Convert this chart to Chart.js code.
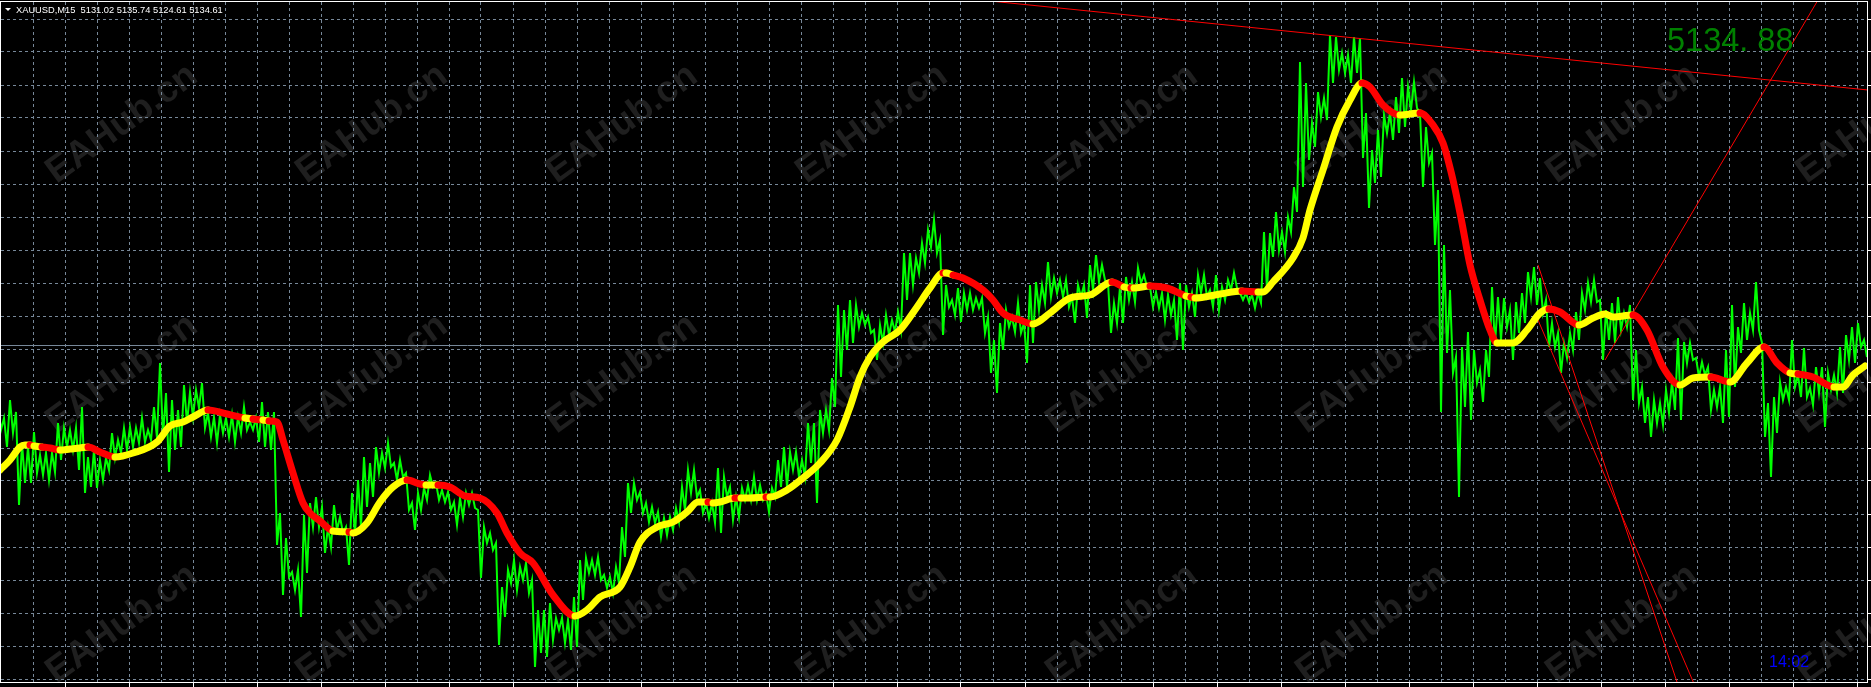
<!DOCTYPE html>
<html lang="en">
<head>
    <meta charset="utf-8" />
    <title>XAUUSD,M15</title>
    <script src="https://cdn.jsdelivr.net/npm/chart.js@4.4.0/dist/chart.umd.js"></script>
    <style>
        html, body { margin: 0; padding: 0; background: #000; overflow: hidden; }
        canvas { display: block; }
    </style>
</head>
<body>
    <canvas id="xauChart" width="1871" height="687"></canvas>

    <script>
        // the screenshot has no price axis, so everything is read on a scale of 1 unit per pixel,
        // anchored on the bid line. values are estimates off the picture.
        var symbolText = "XAUUSD,M15  5131.02 5135.74 5124.61 5134.61";
        var priceText = "5134. 88";
        var timerText = "14:02";
        var watermarkText = "EAHub.cn";

        // green price line, one high/low pair per 6 bars
        var priceHigh = [
            5075,5062,5080,5068,5037,5033,5048,5025,5027,5027,5057,5052,5050,5052,5073,5023,5030,5020,5022,5047,5040,5052,5053,5052,5062,5050,5073,5117,5087,5080,5070,5095,5088,5090,5097,5067,5063,5065,5062,5065,5063,5073,5058,5062,5078,5068,5068,
            4967,4942,4908,4910,4965,4977,4983,4973,4953,4975,4963,4953,4987,5000,5023,5017,5033,5027,5037,5017,5020,5007,4977,4987,4992,5005,4997,4990,4988,4978,4982,4987,4987,4970,4953,4947,4937,4893,4910,4920,4913,4917,4900,4870,4870,4877,4862,4862,4860,4883,
            4920,4922,4920,4923,4905,4903,4913,4953,4997,4997,4988,4977,4973,4968,4962,4963,4972,4993,5010,5010,4990,4977,4977,5012,5003,4993,4983,4992,4995,5003,4995,4987,4992,5020,5033,5028,5028,5020,5057,5057,5070,5070,
            5102,5175,5170,5180,5175,5167,5163,5150,5155,5165,5160,5168,5227,5227,5222,5237,5250,5260,5240,5195,5180,5192,5187,5187,5182,5182,5163,5140,5157,5170,5163,5177,5157,5195,5198,5195,5218,5202,5200,5200,5183,5195,5195,5215,5225,5215,
            5197,5177,5193,5203,5198,5212,5205,5193,5188,5187,5185,5180,5197,5195,5187,5205,5205,5190,5205,5193,5200,5207,5187,5187,5185,5187,5248,5247,5268,5248,5263,5293,
            5418,5397,5357,5388,5382,5445,5443,5427,5425,5443,5442,5367,5330,5350,5365,5367,5383,5402,5393,5398,5367,5353,5327,5290,5235,5190,5123,5133,5148,5130,5110,5130,5193,5183,5182,
            5170,5178,5187,5208,5213,5202,5180,5157,5147,5137,5147,5168,5187,5197,5200,5180,5170,5177,5183,5167,5175,5130,5093,5083,5080,5077,5090,5098,5142,
            5138,5137,5122,5118,5113,5090,5093,5130,5175,5153,5177,5167,5198,5137,5077,5083,5098,5093,5140,5105,5132,5092,5113,5113,5107,5105,5133,5145,5153,5157,5140
        ];
        var priceLow = [
            5050,5033,5047,4975,4997,4997,5007,5005,5000,5008,5020,5033,5030,5010,4987,4993,4992,5000,5010,5022,5027,5030,5033,5037,5038,5040,5042,5043,5008,5030,5033,5057,5063,5072,5052,5043,5037,5047,5043,5038,5047,5050,5050,5038,5033,5030,4935,
            4885,4903,4890,4863,4907,4953,4953,4927,4933,4950,4947,4915,4945,4953,4973,4983,5007,5012,5013,5000,5003,4970,4950,4970,4980,4993,4980,4978,4970,4955,4963,4975,4972,4902,4937,4930,4835,4863,4897,4890,4900,4887,4813,4827,4823,4840,4850,4837,4830,4833,
            4880,4907,4905,4900,4892,4887,4897,4923,4967,4980,4967,4958,4957,4943,4945,4950,4958,4970,4987,4983,4967,4962,4957,4947,4983,4960,4963,4980,4980,4980,4980,4968,4983,4993,4993,5010,5003,5003,5017,4977,5047,5050,
            5073,5103,5130,5137,5153,5155,5147,5120,5137,5145,5148,5150,5180,5195,5207,5217,5233,5227,5145,5173,5165,5158,5170,5170,5172,5147,5107,5087,5130,5153,5148,5147,5117,5137,5170,5177,5183,5187,5183,5173,5157,5183,5162,5190,5198,5200,
            5147,5157,5157,5180,5178,5197,5193,5173,5172,5160,5165,5140,5130,5173,5163,5187,5183,5173,5170,5180,5190,5192,5180,5178,5172,5177,5190,5223,5230,5228,5248,5268,
            5293,5320,5333,5363,5360,5397,5410,5407,5397,5407,5322,5272,5297,5303,5347,5340,5347,5353,5370,5372,5293,5317,5235,5068,5127,5107,4983,5073,5060,5097,5078,5103,5135,5140,5153,
            5120,5147,5157,5183,5175,5167,5133,5133,5107,5122,5130,5140,5170,5178,5178,5120,5140,5137,5150,5153,5080,5077,5057,5043,5057,5055,5067,5070,5060,
            5117,5120,5103,5105,5070,5073,5057,5063,5093,5127,5140,5150,5150,5043,5003,5047,5080,5080,5093,5083,5083,5075,5087,5053,5090,5087,5087,5120,5117,5133,5123
        ];

        // thick moving average, bar number and value
        var maBars = [0,10,20,25,30,34,42,50,60,70,80,88,100,115,133,157,170,183,193,208,227,245,253,263,269,277,283,293,303,310,320,333,349,353,367,380,393,407,420,426,438,450,465,480,497,507,520,533,553,575,587,600,620,630,640,657,673,687,698,708,713,720,735,741,750,766,770,787,803,820,837,850,860,870,883,900,917,930,943,946,953,963,983,993,1003,1020,1033,1050,1070,1090,1112,1124,1131,1134,1150,1167,1186,1191,1195,1220,1242,1258,1263,1273,1293,1303,1310,1323,1337,1350,1362,1370,1383,1400,1420,1433,1443,1453,1461,1470,1480,1490,1497,1513,1527,1540,1549,1560,1579,1593,1605,1613,1633,1647,1663,1680,1693,1711,1730,1747,1764,1777,1790,1798,1813,1834,1843,1853,1865];
        var maValues = [5010,5020,5033,5035,5035,5034,5033,5032,5030,5031,5032,5033,5028,5023,5027,5038,5054,5058,5063,5070,5066,5062,5061,5060,5059,5058,5040,5007,4977,4967,4959,4949,4948,4947,4957,4978,4993,5000,4996,4995,4995,4993,4984,4982,4967,4947,4927,4917,4885,4864,4870,4883,4893,4913,4938,4953,4958,4968,4978,4978,4977,4978,4982,4982,4982,4983,4983,4990,5002,5017,5040,5073,5103,5123,5138,5150,5173,5192,5207,5207,5205,5202,5190,5180,5167,5160,5156,5167,5182,5185,5198,5193,5192,5192,5194,5192,5184,5183,5182,5186,5189,5188,5188,5198,5222,5242,5270,5310,5353,5380,5397,5393,5375,5365,5367,5355,5337,5300,5262,5215,5180,5150,5137,5137,5150,5167,5171,5168,5155,5162,5166,5163,5165,5150,5113,5095,5102,5103,5098,5117,5133,5117,5107,5106,5103,5093,5093,5105,5114];
        // stretches of the average that are red, the rest is yellow
        var maRedSpans = [[30,34],[42,60],[88,115],[208,245],[253,263],[269,333],[349,353],[407,426],[438,575],[708,713],[735,741],[766,770],[943,946],[953,1033],[1112,1124],[1131,1134],[1150,1186],[1191,1195],[1242,1258],[1362,1400],[1420,1497],[1549,1579],[1633,1680],[1711,1730],[1764,1790],[1798,1834]];

        // thin trend lines: bar, value, bar, value
        var trendLines = [
            [990, 5479, 1868, 5390],
            [1605, 5120, 1818, 5480],
            [1538, 5215, 1678, 4795],
            [1538, 5160, 1695, 4794]
        ];
        var bidPrice = 5134.5;

        var firstBar = 1, lastBar = 1867;
        var topPrice = 5478, bottomPrice = 4798;

        var priceLine = [];
        for (var i = 0; i < priceHigh.length; i++) {
            priceLine.push({ x: i * 6 - 2, y: priceHigh[i] });
            priceLine.push({ x: i * 6 + 1, y: priceLow[i] });
        }
        var maLine = maBars.map(function (b, i) { return { x: b, y: maValues[i] }; });

        function isRed(from, to) {
            return maRedSpans.some(function (s) { return from >= s[0] && to <= s[1]; });
        }

        var datasets = [{
            data: maLine,
            borderWidth: 7,
            borderCapStyle: 'round',
            borderJoinStyle: 'round',
            borderColor: '#ffff00',
            cubicInterpolationMode: 'monotone',
            pointRadius: 0,
            order: 0,
            segment: {
                borderColor: function (ctx) {
                    return isRed(ctx.p0.parsed.x, ctx.p1.parsed.x) ? '#ff0000' : '#ffff00';
                }
            }
        }];
        trendLines.forEach(function (t) {
            datasets.push({
                data: [{ x: t[0], y: t[1] }, { x: t[2], y: t[3] }],
                borderWidth: 1,
                borderColor: '#ff0000',
                pointRadius: 0,
                order: 1
            });
        });
        datasets.push({
            data: priceLine,
            borderWidth: 2,
            borderColor: '#00ff00',
            pointRadius: 0,
            order: 2
        });
        datasets.push({
            data: [{ x: firstBar, y: bidPrice }, { x: lastBar, y: bidPrice }],
            borderWidth: 1,
            borderColor: '#778899',
            pointRadius: 0,
            order: 3
        });

        // black background and the watermark go under the grid, frame and labels on top
        var terminalLook = {
            id: 'terminalLook',
            beforeDraw: function (chart) {
                var c = chart.ctx;
                c.save();
                c.fillStyle = '#000';
                c.fillRect(0, 0, chart.width, chart.height);
                c.font = 'bold 37px "Liberation Sans"';
                c.fillStyle = '#1f1f1f';
                c.textAlign = 'center';
                c.textBaseline = 'middle';
                for (var col = 0; col < 8; col++) {
                    for (var row = 0; row < 3; row++) {
                        c.save();
                        c.translate(122 + col * 250, 124 + row * 250);
                        c.rotate(-36 * Math.PI / 180);
                        c.fillText(watermarkText, 0, 0);
                        c.restore();
                    }
                }
                c.restore();
            },
            afterDraw: function (chart) {
                var c = chart.ctx, a = chart.chartArea;
                c.save();
                c.strokeStyle = '#fff';
                c.lineWidth = 1;
                c.strokeRect(a.left - 0.5, a.top - 0.5, a.right - a.left + 1, a.bottom - a.top + 1);

                c.fillStyle = '#fff';
                c.beginPath();
                c.moveTo(5, 8);
                c.lineTo(11, 8);
                c.lineTo(8, 11);
                c.closePath();
                c.fill();

                c.textAlign = 'left';
                c.textBaseline = 'alphabetic';
                c.font = '9.3px "Liberation Sans"';
                c.fillText(symbolText, 16, 13);

                c.fillStyle = '#008000';
                c.font = '32.5px "Liberation Sans"';
                c.fillText(priceText, 1667, 51);

                c.fillStyle = '#0000ff';
                c.font = '16px "Liberation Sans"';
                c.fillText(timerText, 1769, 667);
                c.restore();
            }
        };

        new Chart(document.getElementById('xauChart').getContext('2d'), {
            type: 'line',
            data: { datasets: datasets },
            plugins: [terminalLook],
            options: {
                responsive: false,
                animation: false,
                parsing: false,
                normalized: true,
                layout: { padding: { left: 1, top: 2, right: 0, bottom: 0 } },
                plugins: { legend: { display: false }, title: { display: false }, tooltip: { enabled: false } },
                scales: {
                    x: {
                        type: 'linear',
                        position: 'bottom',
                        min: firstBar,
                        max: lastBar,
                        afterBuildTicks: function (scale) {
                            var t = [];
                            for (var b = 33; b < lastBar; b += 32) t.push({ value: b });
                            scale.ticks = t;
                        },
                        ticks: { display: false },
                        border: { display: false, dash: [3, 3] },
                        grid: {
                            color: '#778899',
                            lineWidth: 1,
                            tickLength: 5,
                            tickColor: function (ctx) { return ctx.index % 2 ? '#fff' : 'rgba(0,0,0,0)'; }
                        }
                    },
                    y: {
                        type: 'linear',
                        position: 'right',
                        min: bottomPrice,
                        max: topPrice,
                        afterBuildTicks: function (scale) {
                            var t = [];
                            for (var p = 5461; p > bottomPrice; p -= 33) t.push({ value: p });
                            scale.ticks = t;
                        },
                        ticks: { display: false },
                        border: { display: false, dash: [3, 3] },
                        grid: {
                            color: '#778899',
                            lineWidth: 1,
                            tickLength: 4,
                            tickColor: '#fff'
                        }
                    }
                }
            }
        });
    </script>
</body>
</html>
